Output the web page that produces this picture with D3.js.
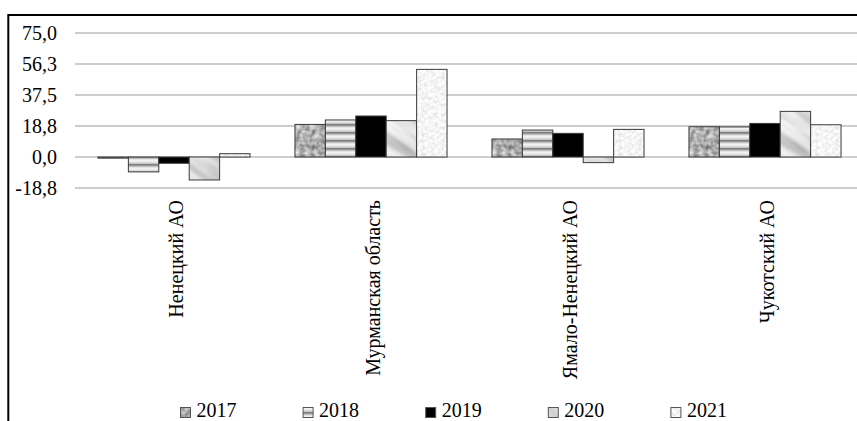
<!DOCTYPE html>
<html>
<head>
<meta charset="utf-8">
<script src="https://cdn.jsdelivr.net/npm/d3@7/dist/d3.min.js"></script>
<style>
  html, body { margin: 0; padding: 0; background: #fff; }
  svg { display: block; }
</style>
</head>
<body>
<svg id="chart" width="857" height="421"></svg>
<script>
// Regions and years
const categories = ["Ненецкий АО", "Мурманская область", "Ямало-Ненецкий АО", "Чукотский АО"];
const years = ["2017", "2018", "2019", "2020", "2021"];

// Values per year, one entry per region
const v2017 = [-0.7, 19.7, 10.9, 18.3];
const v2018 = [-9.0, 22.4, 16.3, 18.2];
const v2019 = [-3.8, 24.8, 14.3, 20.3];
const v2020 = [-13.9, 22.0, -3.4, 27.6];
const v2021 = [2.0, 53.0, 16.7, 19.5];
const seriesValues = [v2017, v2018, v2019, v2020, v2021];

// Y axis ticks
const tickValues = [75, 56.25, 37.5, 18.75, 0, -18.75];
const tickLabels = ["75,0", "56,3", "37,5", "18,8", "0,0", "-18,8"];

const FONT = "'Liberation Serif', 'Times New Roman', Times, 'DejaVu Serif', serif";

const svg = d3.select("#chart").attr("font-family", FONT);
const W = 857, H = 421;

// ---- fills: textured patterns built from SVG noise filters ----
const defs = svg.append("defs");

function noisePattern(id, freq, octaves, gain, offset, seed, size, transform) {
  const fid = id + "-f";
  const f = defs.append("filter").attr("id", fid)
    .attr("color-interpolation-filters", "sRGB")
    .attr("x", 0).attr("y", 0).attr("width", 1).attr("height", 1);
  f.append("feTurbulence").attr("type", "fractalNoise")
    .attr("baseFrequency", freq).attr("numOctaves", octaves)
    .attr("seed", seed).attr("stitchTiles", "stitch");
  const row = `${gain} 0 0 0 ${offset}`;
  f.append("feColorMatrix").attr("type", "matrix")
    .attr("values", `${row} ${row} ${row} 0 0 0 0 1`);
  const p = defs.append("pattern").attr("id", id)
    .attr("patternUnits", "userSpaceOnUse")
    .attr("width", size).attr("height", size);
  if (transform) p.attr("patternTransform", transform);
  p.append("rect").attr("width", size).attr("height", size)
    .attr("fill", "#fff")
    .attr("filter", `url(#${fid})`);
}

// 2017: mottled grey
noisePattern("p2017", 0.2, 2, 0.7, 0.33, 3, 120);
// 2020: light grey with diagonal streaks
noisePattern("p2020", "0.02 0.09", 2, 0.5, 0.6, 7, 120, "rotate(35)");
// 2021: very light speckle
noisePattern("p2021", 0.3, 2, 0.22, 0.85, 11, 120);

// 2018: horizontal shaded stripes
const g18 = defs.append("linearGradient").attr("id", "g2018")
  .attr("x1", 0).attr("y1", 0).attr("x2", 0).attr("y2", 1);
[[0, "#f8f8f8"], [0.4, "#d8d8d8"], [0.58, "#767676"], [0.74, "#a8a8a8"], [1, "#f8f8f8"]]
  .forEach(([o, c]) => g18.append("stop").attr("offset", o).attr("stop-color", c));
const p18 = defs.append("pattern").attr("id", "p2018")
  .attr("patternUnits", "userSpaceOnUse").attr("width", 40).attr("height", 8);
p18.append("rect").attr("width", 40).attr("height", 8).attr("fill", "url(#g2018)");

const fills = {
  "2017": "url(#p2017)",
  "2018": "url(#p2018)",
  "2019": "#000000",
  "2020": "url(#p2020)",
  "2021": "url(#p2021)"
};

// ---- scales ----
const x0 = d3.scaleBand().domain(categories)
  .range([75.5, 863.5]).paddingInner(0.228).paddingOuter(0.114);
const x1 = d3.scaleBand().domain(years).range([0, x0.bandwidth()]);
const y = d3.scaleLinear().domain([-18.75, 75]).range([188, 33]);

// ---- gridlines ----
svg.append("g").selectAll("line").data(tickValues).join("line")
  .attr("x1", 75).attr("x2", 863)
  .attr("y1", d => y(d)).attr("y2", d => y(d))
  .attr("stroke", "#bdbdbd").attr("stroke-width", 1.4);

// ---- y axis labels ----
const yAxis = d3.axisLeft(y).tickValues(tickValues)
  .tickFormat((d, i) => tickLabels[i]).tickSize(0).tickPadding(0);
const ya = svg.append("g").attr("transform", "translate(57,0)").call(yAxis)
  .attr("font-family", FONT).attr("font-size", 20);
ya.select(".domain").remove();
ya.selectAll("text").attr("fill", "#000").attr("dy", "0.33em");

// ---- bars ----
const groups = svg.append("g").selectAll("g").data(categories).join("g")
  .attr("transform", d => `translate(${x0(d)},0)`);
groups.selectAll("rect")
  .data((c, ci) => years.map((yr, si) => ({ yr, v: seriesValues[si][ci] })))
  .join("rect")
  .attr("x", d => x1(d.yr))
  .attr("width", x1.bandwidth())
  .attr("y", d => y(Math.max(0, d.v)))
  .attr("height", d => Math.abs(y(d.v) - y(0)))
  .attr("fill", d => fills[d.yr])
  .attr("stroke", "#3a3a3a").attr("stroke-width", 1);

// ---- category labels (vertical) ----
svg.append("g").attr("font-family", FONT).selectAll("text").data(categories).join("text")
  .attr("transform", d => `translate(${x0(d) + x0.bandwidth() / 2 + 2},200) rotate(-90)`)
  .attr("text-anchor", "end").attr("dy", "0.35em")
  .attr("font-size", 20)
  .text(d => d);

// ---- legend ----
const lg = svg.append("g").attr("font-family", FONT).selectAll("g").data(years).join("g")
  .attr("transform", (d, i) => `translate(${180 + i * 122.6},0)`);
lg.append("rect").attr("x", 0.5).attr("y", 407.5).attr("width", 10).attr("height", 10)
  .attr("fill", d => fills[d]).attr("stroke", "#555").attr("stroke-width", 1);
lg.append("text").attr("x", 16.5).attr("y", 417).attr("font-size", 20).text(d => d);

// ---- outer frame (top and left edges visible) ----
svg.append("path")
  .attr("d", `M8.3,${H + 2} V15 H${W + 2}`)
  .attr("fill", "none").attr("stroke", "#000").attr("stroke-width", 2);
</script>
</body>
</html>
